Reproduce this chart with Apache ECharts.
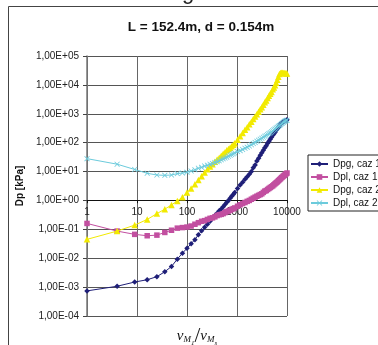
<!DOCTYPE html>
<html>
<head>
<meta charset="utf-8">
<script src="https://cdn.jsdelivr.net/npm/echarts/dist/echarts.min.js"></script>
<style>
  html, body { margin: 0; padding: 0; background: #fff; }
  #chart { width: 378px; height: 345px; }
</style>
</head>
<body>
<div id="chart"></div>
<script>
var title = 'L = 152.4m, d = 0.154m';
var seriesNames = ['Dpg, caz 1', 'Dpl, caz 1', 'Dpg, caz 2', 'Dpl, caz 2'];

// v_M1 / v_Ms
var xVals = [1, 4, 9, 16, 25, 36, 49, 64, 81, 100,
  121, 144, 169, 196, 225, 256, 289, 324, 361, 400,
  441, 484, 529, 576, 625, 676, 729, 784, 841, 900,
  1024, 1156, 1296, 1444, 1600, 1764, 1936, 2116, 2304, 2500,
  2704, 2916, 3136, 3364, 3600, 3844, 4096, 4356, 4624, 4900,
  5184, 5476, 5776, 6084, 6400, 6724, 7056, 7396, 7744, 8100,
  8464, 8836, 9216, 9604, 10000];

var dpgCaz1 = [7.4e-4, 1.07e-3, 1.5e-3, 1.8e-3, 2.3e-3, 3.4e-3, 5.2e-3, 9.3e-3, 0.015, 0.022,
  0.032, 0.044, 0.065, 0.089, 0.117, 0.15, 0.19, 0.24, 0.30, 0.36,
  0.44, 0.51, 0.61, 0.73, 0.87, 1.0, 1.2, 1.4, 1.6, 1.9,
  2.6, 3.4, 4.3, 5.4, 6.6, 8.1, 10, 13.5, 17, 23,
  29, 37, 45, 55, 67, 78, 95, 112, 131, 154,
  181, 205, 231, 271, 305, 343, 385, 433, 470, 510,
  530, 550, 575, 600, 620];

var dplCaz1 = [0.16, 0.087, 0.067, 0.060, 0.063, 0.078, 0.093, 0.11, 0.115, 0.12,
  0.13, 0.15, 0.17, 0.19, 0.20, 0.22, 0.24, 0.25, 0.27, 0.30,
  0.32, 0.33, 0.35, 0.38, 0.41, 0.43, 0.46, 0.49, 0.52, 0.55,
  0.63, 0.71, 0.78, 0.85, 0.93, 1.0, 1.1, 1.2, 1.3, 1.4,
  1.5, 1.6, 1.7, 1.9, 2.1, 2.2, 2.4, 2.6, 2.8, 3.0,
  3.2, 3.5, 3.8, 4.1, 4.4, 4.8, 5.2, 5.6, 6.1, 6.5,
  7.0, 7.4, 7.9, 8.4, 8.9];

var dpgCaz2 = [0.045, 0.087, 0.14, 0.22, 0.35, 0.50, 0.70, 0.96, 1.3, 1.9,
  2.6, 3.6, 5.1, 6.9, 9.3, 12, 15, 18, 22, 26,
  30, 35, 41, 47, 55, 60, 67, 75, 85, 96,
  126, 166, 214, 280, 340, 435, 530, 660, 800, 960,
  1170, 1440, 1670, 2050, 2500, 2900, 3550, 4200, 4900, 5700,
  7000, 8200, 9700, 11800, 15000, 19000, 24000, 26000, 26500, 26500,
  26000, 26000, 25500, 25500, 25000];

var dplCaz2 = [28, 18, 11.8, 8.7, 7.6, 7.4, 7.6, 8.5, 8.9, 9.5,
  10.5, 11.5, 13, 14, 15.5, 16.5, 18, 19, 20.5, 22,
  23.5, 25.5, 27.5, 29.5, 31.5, 34, 36.5, 39, 41.5, 44,
  49, 53, 58, 64, 70, 77, 85, 94, 102, 113,
  121, 131, 142, 154, 166, 178, 192, 206, 222, 240,
  260, 280, 300, 322, 340, 370, 390, 415, 450, 475,
  510, 540, 560, 580, 600];

var colors = ['#1f1f78', '#c24fa0', '#f2ea00', '#6ccbdc'];
var symbols = ['diamond', 'rect', 'triangle',
  'path://M0,1L1,0L5,4L9,0L10,1L6,5L10,9L9,10L5,6L1,10L0,9L4,5Z'];
var symbolSizes = [5.5, 5.5, 6.5, 5.5];
var font = 'Liberation Sans, Arial, sans-serif';

function pairs(ys) {
  return xVals.map(function (x, i) { return [x, ys[i]]; });
}

function sciLabel(v) {
  var e = Math.round(Math.log10(v));
  var a = Math.abs(e);
  return '1,00E' + (e < 0 ? '-' : '+') + (a < 10 ? '0' : '') + a;
}

var allData = [dpgCaz1, dplCaz1, dpgCaz2, dplCaz2];

var chart = echarts.init(document.getElementById('chart'));
chart.setOption({
  animation: false,
  backgroundColor: '#fff',
  title: {
    text: title,
    left: 196, top: 15, textAlign: 'center',
    textStyle: { fontFamily: font, fontSize: 13.5, fontWeight: 'bold', color: '#111' }
  },
  grid: { left: 87, top: 56, width: 200, height: 260, show: false },
  legend: {
    orient: 'vertical', left: 308, top: 155,
    itemWidth: 17, itemHeight: 7, itemGap: 3,
    padding: [4, 30, 3, 2],
    borderColor: '#222', borderWidth: 1, backgroundColor: '#fff',
    selectedMode: false,
    textStyle: { fontFamily: font, fontSize: 10, color: '#111' },
    data: seriesNames
  },
  xAxis: {
    type: 'log', logBase: 10, min: 1, max: 10000,
    offset: -115.8,
    axisLine: { lineStyle: { color: '#111', width: 1 } },
    axisTick: { show: true, length: 3, lineStyle: { color: '#111' } },
    axisLabel: {
      fontFamily: font, fontSize: 10, color: '#222', margin: 7,
      showMinLabel: true, showMaxLabel: true,
      formatter: function (v) { return String(Math.round(v)); }
    },
    splitLine: { show: true, lineStyle: { color: '#666', width: 1 } }
  },
  yAxis: {
    type: 'log', logBase: 10, min: 1e-4, max: 1e5, splitNumber: 9,
    name: 'Dp [kPa]', nameLocation: 'middle', nameGap: 53,
    nameTextStyle: { fontFamily: font, fontSize: 10, fontWeight: 'bold', color: '#111' },
    axisLine: { show: true, lineStyle: { color: '#777', width: 1.5 } },
    axisTick: { show: true, length: 4, lineStyle: { color: '#444' } },
    axisLabel: { fontFamily: font, fontSize: 10, color: '#222', margin: 8, formatter: sciLabel },
    splitLine: { show: true, lineStyle: { color: '#555', width: 1 } }
  },
  graphic: [
    {
      type: 'rect', silent: true, z: 0,
      shape: { x: 8.5, y: 6.5, width: 420, height: 420 },
      style: { fill: 'none', stroke: '#444', lineWidth: 1 }
    },
    {
      type: 'text', silent: true, x: 188, y: 4,
      style: { text: 'g', fontFamily: 'Liberation Sans', fontSize: 22, fill: '#222', align: 'center', verticalAlign: 'bottom' }
    },
    {
      type: 'text', silent: true, x: 197, y: 336,
      style: {
        text: '{v|v}{m|M}{s|1}{d|/}{v|v}{m|M}{s|s}',
        align: 'center', verticalAlign: 'middle',
        rich: {
          v: { fontFamily: 'Liberation Serif', fontStyle: 'italic', fontSize: 15, fill: '#111', verticalAlign: 'middle' },
          m: { fontFamily: 'Liberation Serif', fontStyle: 'italic', fontSize: 9, fill: '#111', verticalAlign: 'bottom', padding: [0, 0, 2, 0] },
          s: { fontFamily: 'Liberation Serif', fontStyle: 'italic', fontSize: 7, fill: '#111', verticalAlign: 'bottom' },
          d: { fontFamily: 'Liberation Serif', fontSize: 21, fill: '#111', verticalAlign: 'middle' }
        }
      }
    }
  ],
  series: seriesNames.map(function (name, i) {
    return {
      name: name,
      type: 'line',
      data: pairs(allData[i]),
      symbol: symbols[i],
      symbolSize: symbolSizes[i],
      showAllSymbol: true,
      color: colors[i],
      itemStyle: { color: colors[i] },
      lineStyle: { color: colors[i], width: 1 },
      z: 2 + i
    };
  })
});
</script>
</body>
</html>
